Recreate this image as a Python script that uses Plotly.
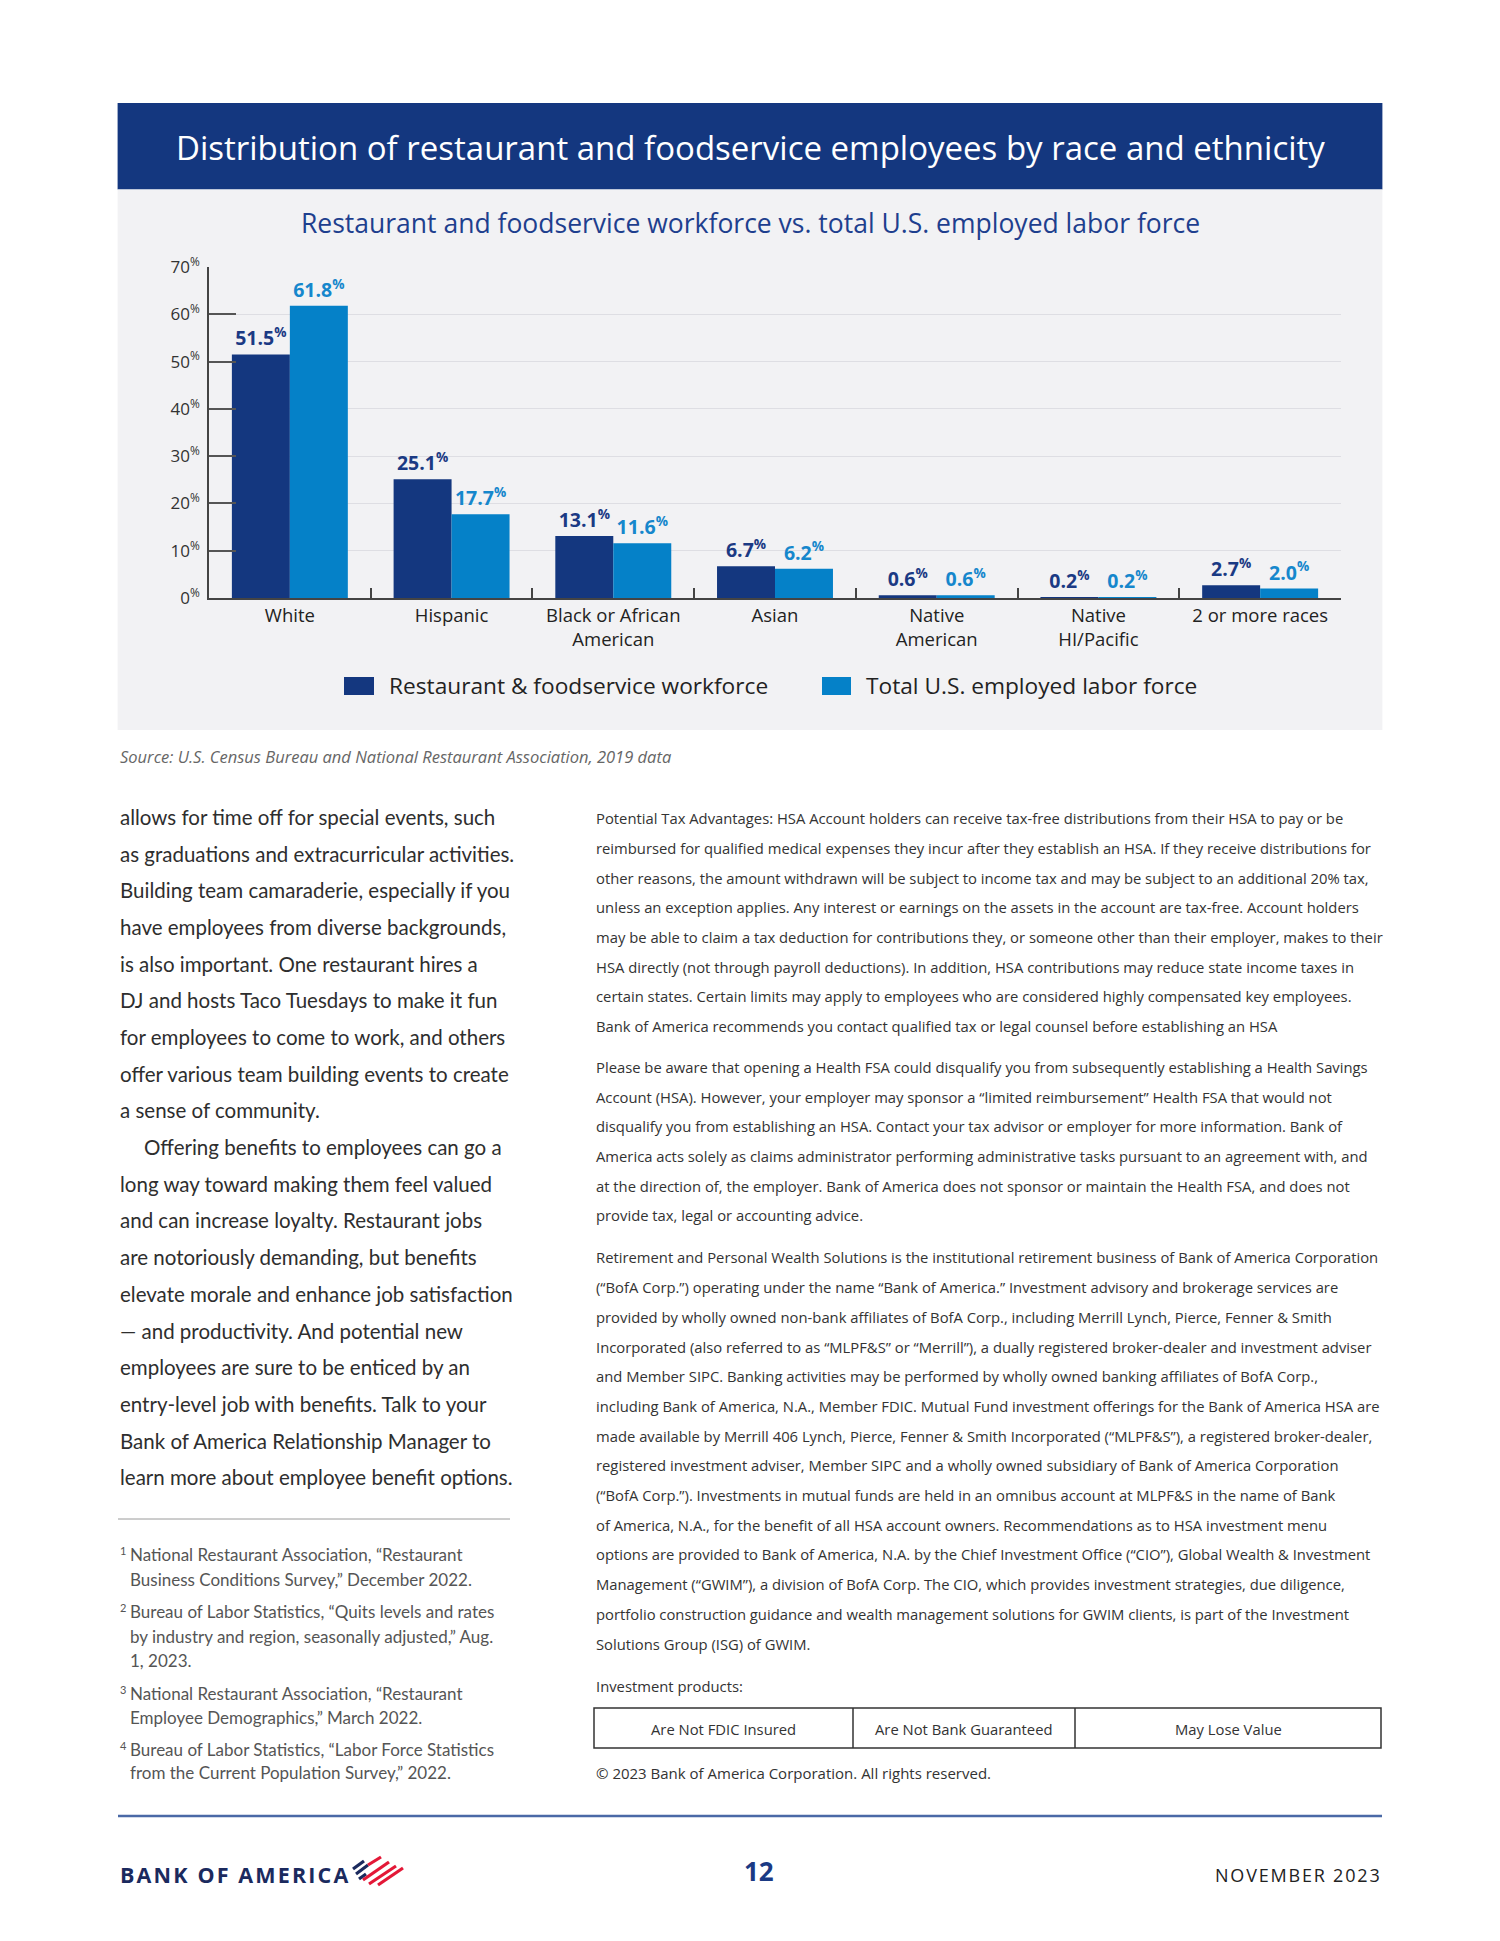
import plotly.graph_objects as go

# ---------------- data ----------------
categories = ["White", "Hispanic", "Black or African<br>American", "Asian",
              "Native<br>American", "Native<br>HI/Pacific", "2 or more races"]
restaurant_workforce = [51.5, 25.1, 13.1, 6.7, 0.6, 0.2, 2.7]
total_us_labor = [61.8, 17.7, 11.6, 6.2, 0.6, 0.2, 2.0]
series_names = ["Restaurant & foodservice workforce", "Total U.S. employed labor force"]
y_tick_values = [0, 10, 20, 30, 40, 50, 60, 70]
y_tick_labels = [f"{v}<sup>%</sup>" for v in y_tick_values]

title_text = "Distribution of restaurant and foodservice employees by race and ethnicity"
subtitle_text = "Restaurant and foodservice workforce vs. total U.S. employed labor force"
source_text = "Source: U.S. Census Bureau and National Restaurant Association, 2019 data"

left_lines = [
    "allows for time off for special events, such",
    "as graduations and extracurricular activities.",
    "Building team camaraderie, especially if you",
    "have employees from diverse backgrounds,",
    "is also important. One restaurant hires a",
    "DJ and hosts Taco Tuesdays to make it fun",
    "for employees to come to work, and others",
    "offer various team building events to create",
    "a sense of community.",
    "Offering benefits to employees can go a",
    "long way toward making them feel valued",
    "and can increase loyalty. Restaurant jobs",
    "are notoriously demanding, but benefits",
    "elevate morale and enhance job satisfaction",
    "— and productivity. And potential new",
    "employees are sure to be enticed by an",
    "entry-level job with benefits. Talk to your",
    "Bank of America Relationship Manager to",
    "learn more about employee benefit options.",
]

footnotes = [
    ("1", ["National Restaurant Association, “Restaurant",
           "Business Conditions Survey,” December 2022."]),
    ("2", ["Bureau of Labor Statistics, “Quits levels and rates",
           "by industry and region, seasonally adjusted,” Aug.",
           "1, 2023."]),
    ("3", ["National Restaurant Association, “Restaurant",
           "Employee Demographics,” March 2022."]),
    ("4", ["Bureau of Labor Statistics, “Labor Force Statistics",
           "from the Current Population Survey,” 2022."]),
]

right_paras = [
    ["Potential Tax Advantages: HSA Account holders can receive tax-free distributions from their HSA to pay or be",
     "reimbursed for qualified medical expenses they incur after they establish an HSA. If they receive distributions for",
     "other reasons, the amount withdrawn will be subject to income tax and may be subject to an additional 20% tax,",
     "unless an exception applies. Any interest or earnings on the assets in the account are tax-free. Account holders",
     "may be able to claim a tax deduction for contributions they, or someone other than their employer, makes to their",
     "HSA directly (not through payroll deductions). In addition, HSA contributions may reduce state income taxes in",
     "certain states. Certain limits may apply to employees who are considered highly compensated key employees.",
     "Bank of America recommends you contact qualified tax or legal counsel before establishing an HSA"],
    ["Please be aware that opening a Health FSA could disqualify you from subsequently establishing a Health Savings",
     "Account (HSA). However, your employer may sponsor a “limited reimbursement” Health FSA that would not",
     "disqualify you from establishing an HSA. Contact your tax advisor or employer for more information. Bank of",
     "America acts solely as claims administrator performing administrative tasks pursuant to an agreement with, and",
     "at the direction of, the employer. Bank of America does not sponsor or maintain the Health FSA, and does not",
     "provide tax, legal or accounting advice."],
    ["Retirement and Personal Wealth Solutions is the institutional retirement business of Bank of America Corporation",
     "(“BofA Corp.”) operating under the name “Bank of America.” Investment advisory and brokerage services are",
     "provided by wholly owned non-bank affiliates of BofA Corp., including Merrill Lynch, Pierce, Fenner & Smith",
     "Incorporated (also referred to as “MLPF&S” or “Merrill”), a dually registered broker-dealer and investment adviser",
     "and Member SIPC. Banking activities may be performed by wholly owned banking affiliates of BofA Corp.,",
     "including Bank of America, N.A., Member FDIC. Mutual Fund investment offerings for the Bank of America HSA are",
     "made available by Merrill 406 Lynch, Pierce, Fenner & Smith Incorporated (“MLPF&S”), a registered broker-dealer,",
     "registered investment adviser, Member SIPC and a wholly owned subsidiary of Bank of America Corporation",
     "(“BofA Corp.”). Investments in mutual funds are held in an omnibus account at MLPF&S in the name of Bank",
     "of America, N.A., for the benefit of all HSA account owners. Recommendations as to HSA investment menu",
     "options are provided to Bank of America, N.A. by the Chief Investment Office (“CIO”), Global Wealth & Investment",
     "Management (“GWIM”), a division of BofA Corp. The CIO, which provides investment strategies, due diligence,",
     "portfolio construction guidance and wealth management solutions for GWIM clients, is part of the Investment",
     "Solutions Group (ISG) of GWIM."],
]
table_cells = ["Are Not FDIC Insured", "Are Not Bank Guaranteed", "May Lose Value"]

# ---------------- layout helpers ----------------
W, H = 1500, 1941
OFF = 8  # page body margin
NAVY = "#14377f"
BLUE = "#0581c8"
HS = "\u200a"  # hair space for letter spacing


def spaced(s):
    return HS.join(list(s))


def px(x):
    return (x - OFF) / W


def py(y):
    return 1 - (y - OFF) / H


annotations = []
shapes = []


def ann(text, x, y, size, color="#333333", family="Open Sans", xanchor="left",
        yanchor="middle", weight=None, style=None):
    f = dict(size=size, color=color, family=family)
    if weight:
        f["weight"] = weight
    if style:
        f["style"] = style
    annotations.append(dict(text=text, x=px(x), y=py(y), xref="paper", yref="paper",
                            xanchor=xanchor, yanchor=yanchor, showarrow=False, font=f))


def rect(x0, y0, x1, y1, fill=None, line_color=None, line_width=0, layer="below"):
    shapes.append(dict(type="rect", xref="paper", yref="paper",
                       x0=px(x0), x1=px(x1), y0=py(y1), y1=py(y0),
                       fillcolor=fill if fill else "rgba(0,0,0,0)",
                       line=dict(color=line_color if line_color else "rgba(0,0,0,0)", width=line_width),
                       layer=layer))


def line(x0, y0, x1, y1, color, width, layer="above"):
    shapes.append(dict(type="line", xref="paper", yref="paper",
                       x0=px(x0), x1=px(x1), y0=py(y0), y1=py(y1),
                       line=dict(color=color, width=width), layer=layer))


# ---------------- figure ----------------
fig = go.Figure()
fig.add_trace(go.Bar(x=categories, y=restaurant_workforce, name=series_names[0],
                     marker=dict(color=NAVY, line=dict(width=0)),
                     texttemplate="%{y:.1f}<sup>%</sup>", textposition="outside",
                     textfont=dict(family="Open Sans", size=19.5, color="#1b3a84", weight="bold"),
                     constraintext="none", cliponaxis=False, showlegend=False))
fig.add_trace(go.Bar(x=categories, y=total_us_labor, name=series_names[1],
                     marker=dict(color=BLUE, line=dict(width=0)),
                     texttemplate="%{y:.1f}<sup>%</sup>", textposition="outside",
                     textfont=dict(family="Open Sans", size=19.5, color="#1687cc", weight="bold"),
                     constraintext="none", cliponaxis=False, showlegend=False))

# header + panel
rect(117.6, 103, 1382.4, 189.5, fill=NAVY)
rect(117.6, 189.5, 1382.4, 730, fill="#f2f2f4")
ann(title_text, 750, 147, 33, color="white", xanchor="center")
ann(subtitle_text, 750, 223, 26.5, color="#1e3f8e", xanchor="center")

# custom legend
rect(344, 677, 374, 695, fill=NAVY)
ann(series_names[0], 387, 686, 22.7, color="#222222")
rect(822, 677, 851, 695, fill=BLUE)
ann(series_names[1], 864, 686, 22.7, color="#222222")

# source
ann(source_text, 118, 757, 16.5, color="#666666", style="italic")

# left column
for i, t in enumerate(left_lines):
    x = 142 if i == 9 else 118
    ann(t, x, 817 + 36.68 * i, 20.5, color="#2e2e2e", family="Lato")

line(118, 1519, 510, 1519, "#9a9a9a", 1)

fn_y = [[1554, 1579], [1611, 1636, 1660], [1693, 1717], [1749, 1772]]
for (num, lines_), ys in zip(footnotes, fn_y):
    ann(num, 118, ys[0] - 4, 11, color="#555555", family="Lato")
    for t, yy in zip(lines_, ys):
        ann(t, 127.5, yy, 17, color="#555555", family="Lato")

# right column
para_starts = [818.1, 1066.8, 1257.4]
for start, para in zip(para_starts, right_paras):
    for i, t in enumerate(para):
        ann(t, 594, start + 29.7 * i, 14.8, color="#333333")
ann("Investment products:", 594, 1686, 14.8, color="#333333")
rect(594, 1708, 1381, 1748, line_color="#333333", line_width=1.5, layer="above")
line(853, 1708, 853, 1748, "#333333", 1.5)
line(1075, 1708, 1075, 1748, "#333333", 1.5)
for t, cx in zip(table_cells, [723, 964, 1228]):
    ann(t, cx, 1729, 14.8, color="#333333", xanchor="center")
ann("© 2023 Bank of America Corporation. All rights reserved.", 594, 1773, 15, color="#333333")

# footer
line(118, 1816, 1382, 1816, "#4a69a6", 2.5)
ann(spaced("BANK OF AMERICA"), 118, 1874, 21.5, color="#1b2a5e", weight="bold", family="Open Sans")
ann("12", 759, 1871, 26, color="#1b3a84", xanchor="center", weight="bold")
ann(spaced("NOVEMBER 2023"), 1382, 1875, 18, color="#222222", xanchor="right")
# flag mark
for (a, b, c, d) in [(353, 1869, 364, 1861), (356, 1874, 368, 1865), (359, 1879, 366, 1874)]:
    line(a, b, c, d, "#1b2a5e", 3.2)
for (a, b, c, d) in [(368, 1865, 381, 1857), (363, 1880, 389, 1862), (369, 1884, 396, 1866), (378, 1885, 403, 1868)]:
    line(a, b, c, d, "#e31837", 3.2)

fig.update_layout(
    width=W, height=H,
    margin=dict(l=0, r=0, t=0, b=0, pad=0, autoexpand=False),
    paper_bgcolor="white", plot_bgcolor="rgba(0,0,0,0)",
    barmode="group", bargap=0.283, bargroupgap=0,
    font=dict(family="Open Sans", color="#222222"),
    shapes=shapes, annotations=annotations,
    xaxis=dict(domain=[px(209), px(1341)], showline=True, linecolor="#444444", linewidth=1.5,
               ticks="inside", ticklen=10, tickwidth=1.5, tickcolor="#444444", tickson="boundaries",
               tickfont=dict(size=18.5, color="#222222"), showgrid=False, fixedrange=True,
               automargin=False),
    yaxis=dict(domain=[py(598), py(267)], range=[0, 70], showline=True,
               linecolor="#444444", linewidth=1.5, ticks="inside", ticklen=27, tickwidth=2,
               tickcolor="#555555", tickvals=y_tick_values, ticktext=y_tick_labels,
               tickfont=dict(size=17, color="#333333"), ticklabelstandoff=4,
               showgrid=True, gridcolor="#dedee3", gridwidth=1, zeroline=False, fixedrange=True,
               automargin=False),
)

fig.write_html("out.html")
